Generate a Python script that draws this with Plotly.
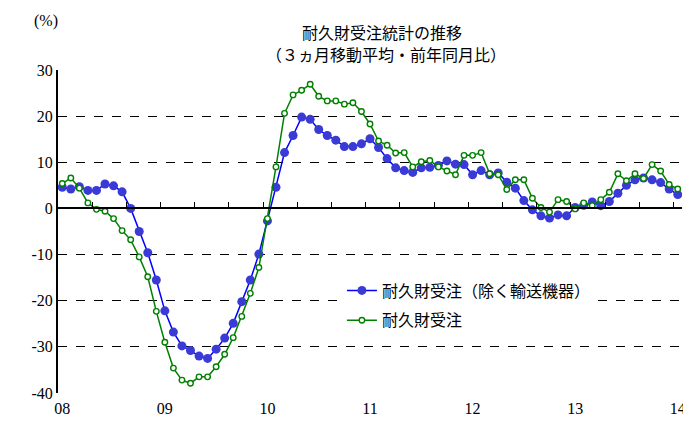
import plotly.graph_objects as go

# Monthly data Jan 2008 - Jan 2014 (3-month moving average, YoY %)
months = list(range(73))
year_labels = ["08", "09", "10", "11", "12", "13", "14"]
year_ticks = [0, 12, 24, 36, 48, 60, 72]

ex_transport = [
    4.6, 4.2, 4.7, 3.9, 3.9, 5.3, 4.9, 3.6, 0.0, -5.0, -9.6, -15.5,
    -22.2, -26.8, -29.8, -30.8, -32.0, -32.5, -30.5, -28.1, -24.9, -20.2, -15.5, -9.9,
    -2.7, 4.6, 12.1, 15.8, 19.8, 19.3, 17.1, 15.8, 14.8, 13.4, 13.4, 14.0,
    15.1, 13.2, 10.8, 8.8, 8.2, 7.8, 8.8, 8.9, 9.3, 10.3, 9.6, 9.5,
    7.3, 8.2, 7.3, 7.7, 5.7, 4.4, 1.7, -0.3, -1.6, -2.1, -1.4, -1.6,
    0.2, 0.7, 1.4, 0.6, 1.5, 3.3, 5.0, 6.2, 6.6, 6.2, 5.6, 4.2,
    3.0,
]
total = [
    5.4, 6.6, 4.4, 1.2, -0.2, -0.6, -2.2, -4.8, -6.8, -10.5, -14.8, -22.3,
    -29.0, -34.6, -37.2, -37.9, -36.5, -36.5, -34.3, -31.6, -28.0, -23.4, -18.4, -12.8,
    -2.2, 9.0, 20.6, 24.6, 25.6, 26.9, 24.3, 23.3, 23.3, 22.6, 22.9, 21.0,
    18.3, 14.6, 13.7, 12.0, 12.1, 9.0, 10.1, 10.4, 9.0, 8.1, 7.3, 11.5,
    11.5, 12.1, 7.5, 7.3, 4.1, 6.2, 6.2, 2.2, 0.2, -0.8, 1.9, 1.5,
    -0.1, 1.2, 0.6, 1.9, 3.5, 7.5, 6.0, 7.5, 6.5, 9.5, 8.1, 5.2,
    4.2,
]
y_ticks = [30, 20, 10, 0, -10, -20, -30, -40]
y_ticktext = ["30", "20", "10", "0", "-10", "-20", "-30", "-40"]
minor_ticks = [k * 4 - 0.5 for k in range(19)]

FONT = "Liberation Serif, Noto Sans CJK JP"

fig = go.Figure()
fig.add_trace(go.Scatter(
    x=months, y=ex_transport, mode="lines+markers",
    name="耐久財受注（除く輸送機器）", legendgroup="a",
    line=dict(color="#0000FF", width=1.5),
    marker=dict(symbol="circle", size=9, color="#3A3AD6", line=dict(width=0)),
))
fig.add_trace(go.Scatter(
    x=months, y=total, mode="lines+markers",
    name="耐久財受注", legendgroup="b",
    line=dict(color="#008000", width=1.5),
    marker=dict(symbol="circle", size=5.5, color="white", line=dict(color="#008000", width=1.4)),
))
# invisible trace to activate the tick axis on the zero line
fig.add_trace(go.Scatter(x=[-0.5], y=[0], xaxis="x2", mode="markers",
                         marker=dict(opacity=0), showlegend=False, hoverinfo="skip"))

fig.update_layout(
    width=683, height=415,
    margin=dict(l=50, r=5, t=62, b=30),
    paper_bgcolor="white", plot_bgcolor="white",
    font=dict(family=FONT, size=14, color="black"),
    showlegend=True,
    legend=dict(x=0.455, y=0.37, xanchor="left", yanchor="top",
                bgcolor="white", font=dict(size=16, family=FONT),
                traceorder="grouped", tracegroupgap=6, itemwidth=30),
    xaxis=dict(range=[-0.5, 72.5], tickvals=year_ticks, ticktext=year_labels,
               showgrid=False, zeroline=False, showline=False, ticks="",
               ticklabelstandoff=4,
               tickfont=dict(size=16, family=FONT)),
    xaxis2=dict(range=[-0.5, 72.5], overlaying="x", anchor="free", position=4 / 7,
                side="bottom", showline=True, linecolor="black", linewidth=2,
                tickvals=minor_ticks, ticks="inside", ticklen=5, tickwidth=1,
                tickcolor="black", showticklabels=False, showgrid=False, zeroline=False),
    yaxis=dict(range=[-40, 30], tickvals=y_ticks, ticktext=y_ticktext,
               showgrid=True, gridcolor="black", griddash="dash", gridwidth=1,
               zeroline=False, showline=True, linecolor="black", linewidth=2,
               ticks="", tickfont=dict(size=16, family=FONT)),
    annotations=[
        dict(text="耐久財受注統計の推移", xref="paper", yref="paper",
             x=0.52, y=1.113, xanchor="center", yanchor="middle", showarrow=False,
             font=dict(size=16, family=FONT)),
        dict(text="（３ヵ月移動平均・前年同月比）", xref="paper", yref="paper",
             x=0.525, y=1.045, xanchor="center", yanchor="middle", showarrow=False,
             font=dict(size=16, family=FONT)),
        dict(text="(%)", xref="paper", yref="paper",
             x=-0.02, y=1.153, xanchor="center", yanchor="middle", showarrow=False,
             font=dict(size=16, family=FONT)),
    ],
)

fig.write_html("out.html")
